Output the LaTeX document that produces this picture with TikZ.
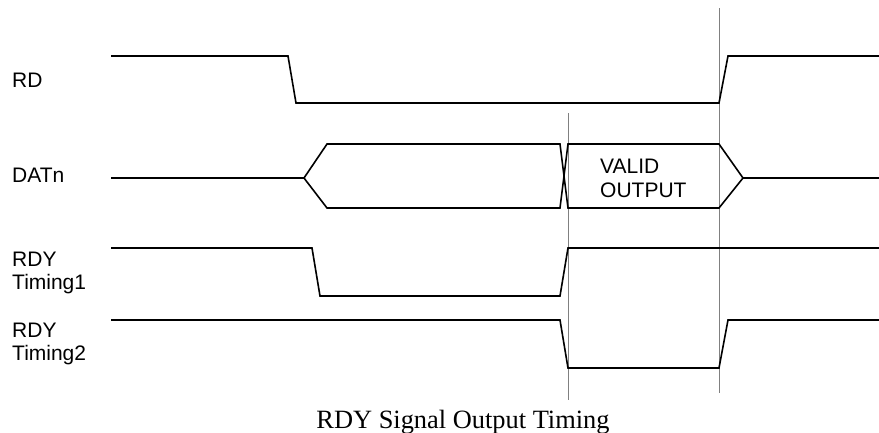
\documentclass[tikz,border=0pt]{standalone}
\usepackage{fontspec}
\setmainfont{Liberation Sans}
\newfontfamily\capfont{Liberation Serif}
\begin{document}
\begin{tikzpicture}[x=1pt,y=-1pt,
  sig/.style={line width=1.6pt,line join=miter},
  guide/.style={line width=0.9pt,draw=black!50},
  lbl/.style={inner sep=0pt,anchor=base west,align=left,font=\fontsize{21}{23}\selectfont},
  captext/.style={inner sep=0pt,anchor=base,font=\capfont\fontsize{26.4}{30}\selectfont}]
\useasboundingbox (0,0) rectangle (879,432);
% guides
\coordinate (g1t) at (568,113); \coordinate (g1b) at (568,400);
\coordinate (g2t) at (719,8);   \coordinate (g2b) at (719,393);
\draw[guide] (g1t) -- (g1b);
\draw[guide] (g2t) -- (g2b);
% labels (multi-line nodes are placed by their last baseline)
\node[lbl] (rd) at (12,87) {RD};
\node[lbl] (dat) at (12,182) {DATn};
\node[lbl] (rdy1) at (12,289) {RDY\\Timing1};
\node[lbl] (rdy2) at (12,360) {RDY\\Timing2};
\node[lbl,font=\fontsize{21}{24}\selectfont] (valid) at (600,197) {VALID\\OUTPUT};
\node[captext] (caption) at (463,428) {RDY Signal Output Timing};
% RD
\draw[sig] (111,56)--(288,56)--(296,103)--(719,103)--(728,56)--(879,56);
% DATn
\draw[sig] (111,178)--(304,178)--(327,144)--(560,144)--(568,208)--(719,208)--(743,178)--(879,178);
\draw[sig] (304,178)--(327,208)--(560,208)--(568,144)--(719,144)--(743,178);
% RDY Timing1
\draw[sig] (111,248)--(312,248)--(320,296)--(560,296)--(568,248)--(879,248);
% RDY Timing2
\draw[sig] (111,320)--(560,320)--(568,368)--(719,368)--(728,320)--(879,320);
\end{tikzpicture}
\end{document}
